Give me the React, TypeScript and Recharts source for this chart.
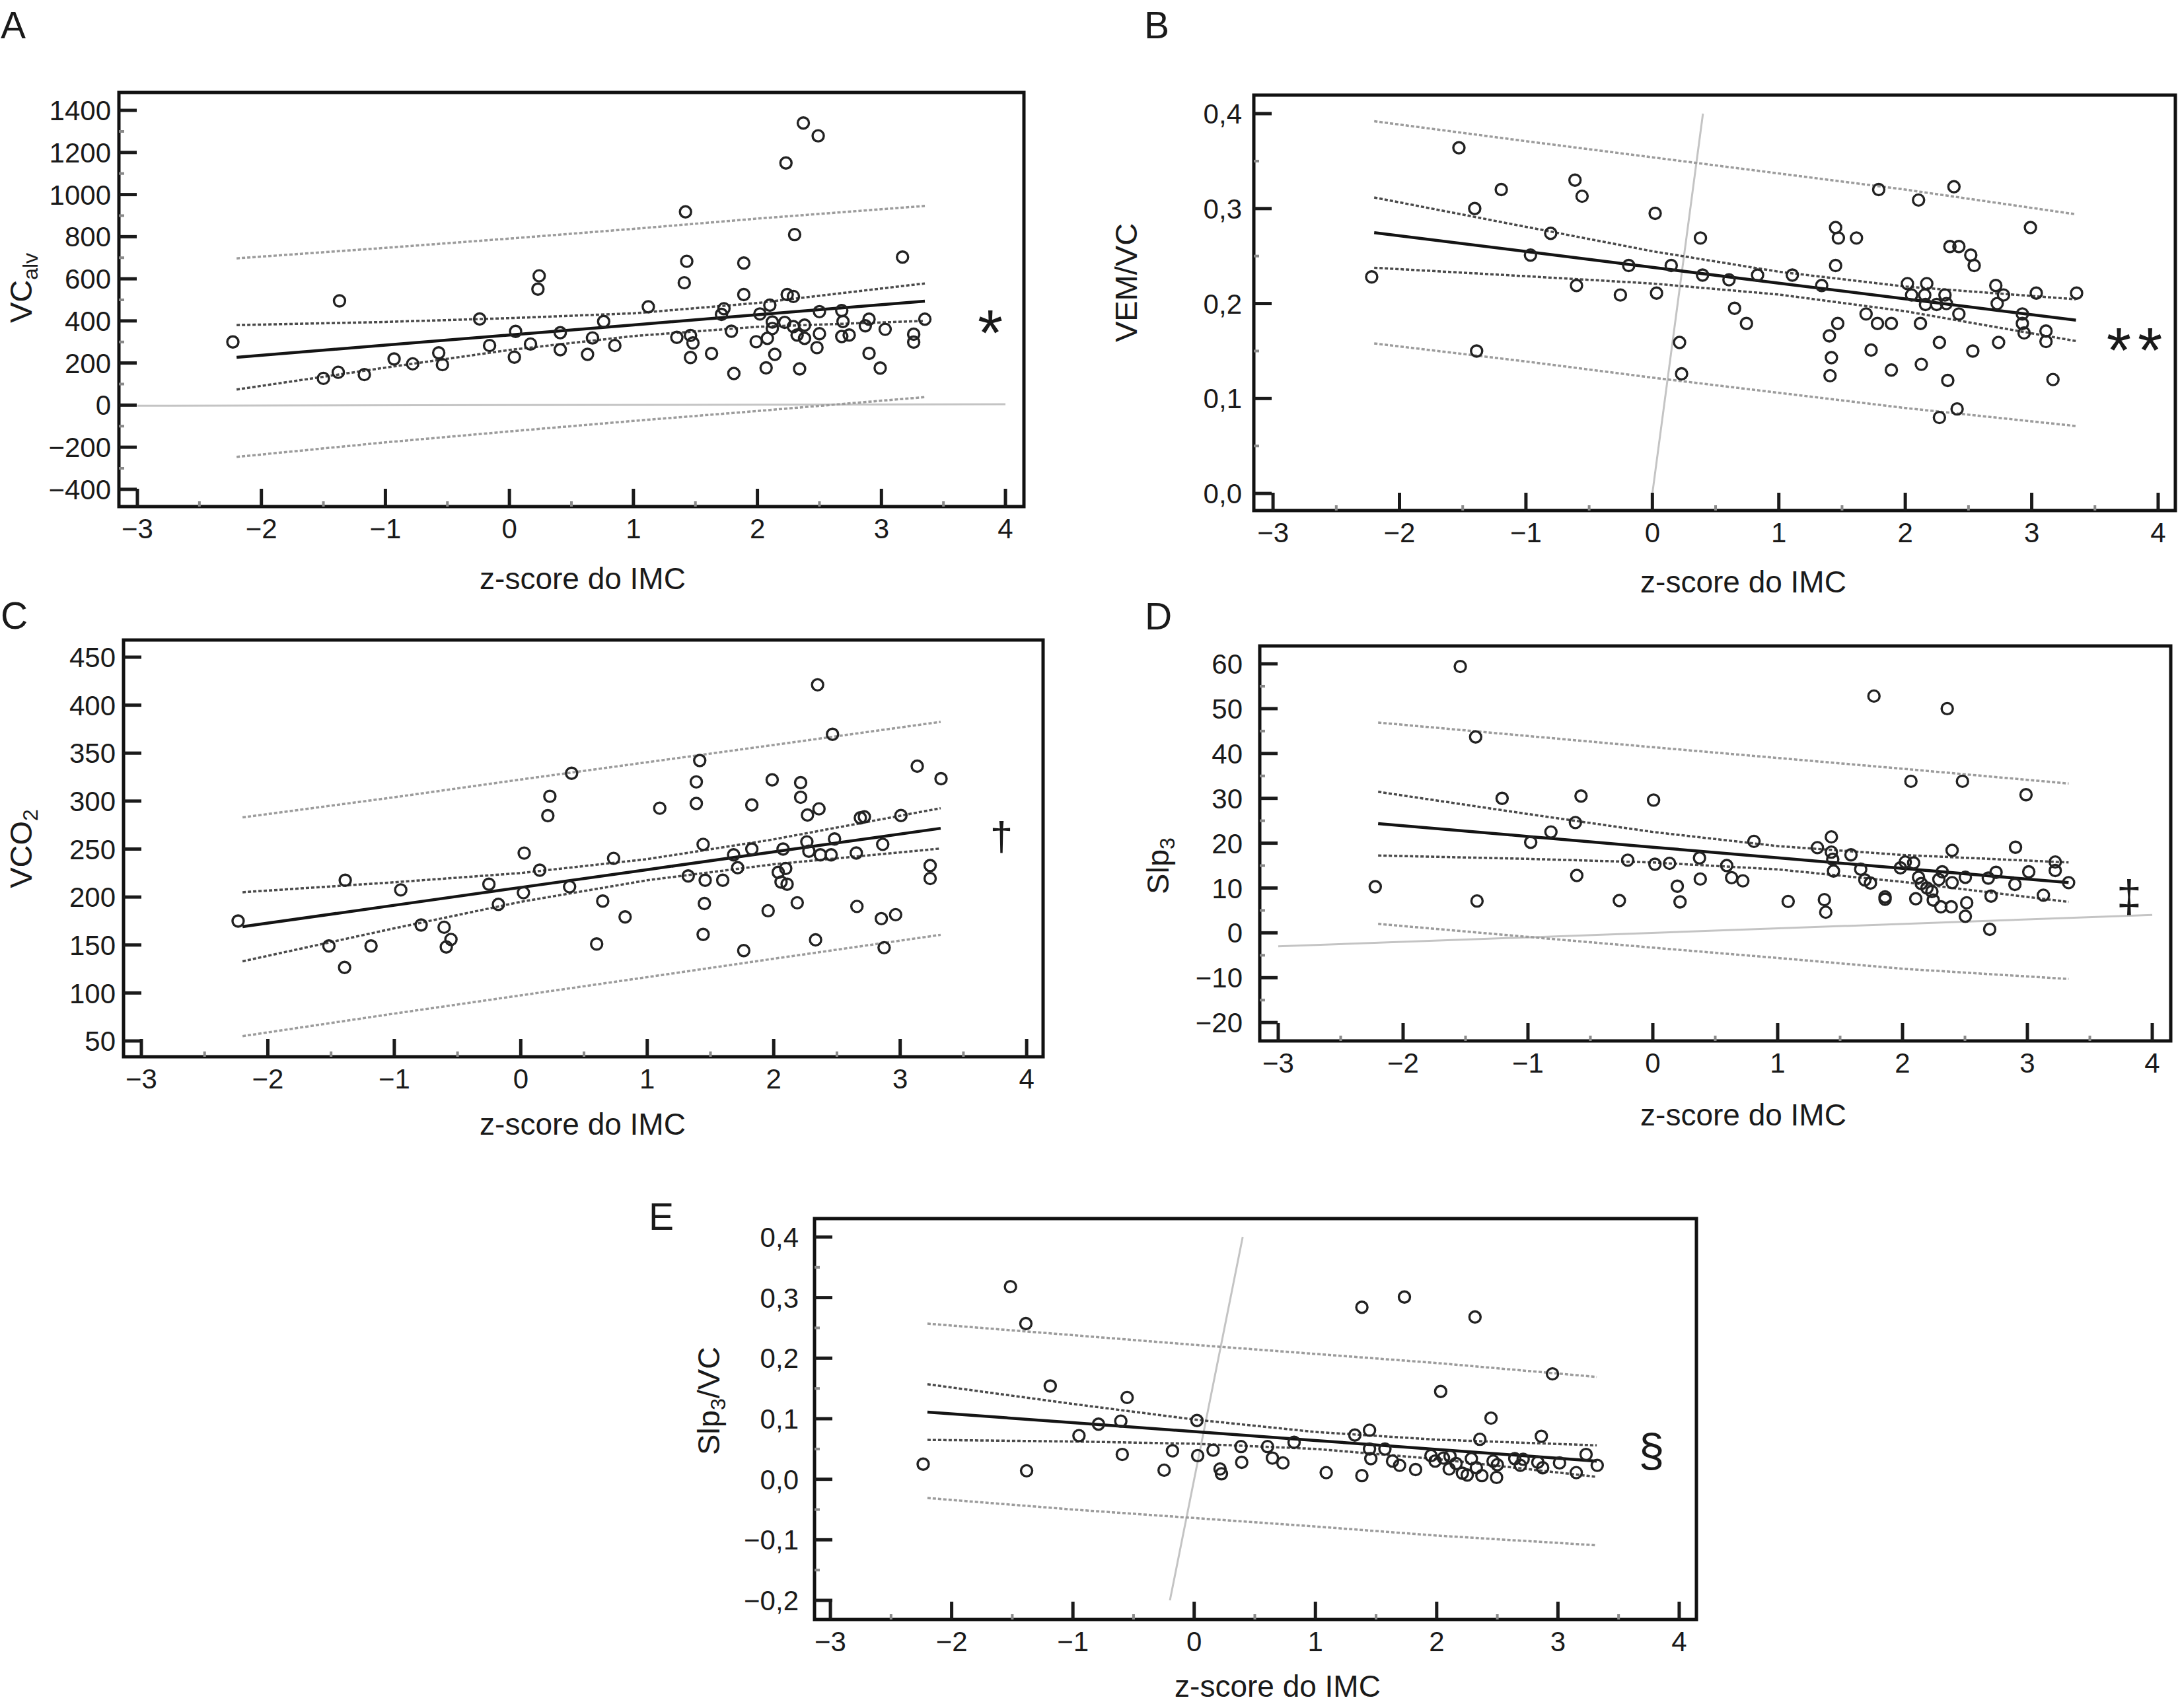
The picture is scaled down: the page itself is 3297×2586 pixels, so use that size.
import { ReferenceArea, Scatter, ScatterChart, XAxis, YAxis } from "recharts";

type Pt = [number, number];

// z-score do IMC (shared x axis)
const zTicks = [-3, -2, -1, 0, 1, 2, 3, 4];
const zMinorTicks = [-2.5, -1.5, -0.5, 0.5, 1.5, 2.5, 3.5];

// A – VCalv
const vcAlvPoints: Pt[] = [
  [-2.23, 300], [-1.37, 495], [-1.5, 127], [-1.38, 156], [-1.17, 145], [-0.93, 219], [-0.78, 196],
  [-0.57, 248], [-0.54, 192], [-0.24, 409], [-0.16, 283], [0.04, 228], [0.05, 350], [0.24, 614],
  [0.23, 551], [0.17, 290], [0.41, 263], [0.41, 344], [0.63, 241], [0.67, 319], [0.76, 397],
  [0.85, 283], [1.12, 467], [1.35, 322], [1.42, 918], [1.41, 581], [1.43, 683], [1.46, 331],
  [1.46, 226], [1.48, 295], [1.63, 245], [1.71, 431], [1.73, 458], [1.79, 351], [1.81, 150],
  [1.89, 675], [1.89, 525], [1.99, 301], [2.02, 433], [2.07, 177], [2.08, 317], [2.1, 475],
  [2.12, 395], [2.12, 364], [2.14, 241], [2.23, 1150], [2.22, 393], [2.24, 525], [2.3, 810],
  [2.29, 516], [2.29, 373], [2.32, 333], [2.34, 172], [2.37, 1340], [2.38, 380], [2.38, 317],
  [2.48, 273], [2.49, 1279], [2.5, 444], [2.5, 339], [2.68, 449], [2.68, 326], [2.69, 397],
  [2.74, 333], [2.87, 377], [2.9, 408], [2.9, 246], [2.99, 176], [3.03, 360], [3.17, 703],
  [3.26, 337], [3.26, 299], [3.35, 408],
];
const vcAlvBandX = [-2.2, -1, 0, 1, 2, 3.35];
const vcAlvFit = [227, 285, 333, 381, 429, 494];
const vcAlvCiHigh = [380, 395, 413, 436, 485, 578];
const vcAlvCiLow = [74, 178, 262, 328, 372, 400];
const vcAlvPiHigh = [697, 747, 791, 837, 886, 946];
const vcAlvPiLow = [-246, -177, -125, -75, -28, 38];
const vcAlvIdentity = [-3, 4];
const vcAlvTicks = [-400, -200, 0, 200, 400, 600, 800, 1000, 1200, 1400];
const vcAlvMinorTicks = [-300, -100, 100, 300, 500, 700, 900, 1100, 1300];

// B – VEM/VC
const vemPoints: Pt[] = [
  [-2.22, 0.228], [-1.53, 0.364], [-1.405, 0.3], [-1.39, 0.15], [-1.195, 0.32], [-0.964, 0.251],
  [-0.804, 0.274], [-0.612, 0.33], [-0.556, 0.313], [-0.6, 0.219], [-0.253, 0.209], [-0.187, 0.24],
  [0.022, 0.295], [0.033, 0.211], [0.149, 0.24], [0.215, 0.159], [0.231, 0.126], [0.38, 0.269],
  [0.397, 0.23], [0.606, 0.225], [0.65, 0.195], [0.744, 0.179], [0.832, 0.23], [1.107, 0.23],
  [1.339, 0.219], [1.4, 0.166], [1.416, 0.143], [1.405, 0.124], [1.449, 0.28], [1.471, 0.269],
  [1.449, 0.24], [1.466, 0.179], [1.614, 0.269], [1.69, 0.189], [1.73, 0.151], [1.79, 0.32],
  [1.78, 0.179], [1.89, 0.179], [1.89, 0.13], [2.017, 0.221], [2.05, 0.209], [2.105, 0.309],
  [2.12, 0.179], [2.127, 0.136], [2.154, 0.209], [2.17, 0.221], [2.16, 0.199], [2.248, 0.199],
  [2.27, 0.159], [2.27, 0.08], [2.314, 0.209], [2.325, 0.2], [2.336, 0.119], [2.353, 0.26],
  [2.385, 0.323], [2.424, 0.26], [2.424, 0.189], [2.41, 0.089], [2.518, 0.251], [2.545, 0.24],
  [2.534, 0.15], [2.716, 0.219], [2.727, 0.2], [2.738, 0.159], [2.777, 0.209], [2.926, 0.189],
  [2.926, 0.179], [2.94, 0.169], [2.99, 0.28], [3.036, 0.211], [3.113, 0.171], [3.113, 0.16],
  [3.168, 0.12], [3.355, 0.211],
];
const vemBandX = [-2.2, -1, 0, 1, 2, 3.35];
const vemFit = [0.2747, 0.2548, 0.2381, 0.2215, 0.2049, 0.1825];
const vemCiHigh = [0.3117, 0.2808, 0.2551, 0.2335, 0.2179, 0.2045];
const vemCiLow = [0.2377, 0.2288, 0.2211, 0.2095, 0.1919, 0.1605];
const vemPiHigh = [0.392, 0.371, 0.354, 0.337, 0.32, 0.294];
const vemPiLow = [0.158, 0.139, 0.122, 0.106, 0.09, 0.071];
const vemIdentity = [0, 0.4];
const vemTicks = [0, 0.1, 0.2, 0.3, 0.4];
const vemMinorTicks = [0.05, 0.15, 0.25, 0.35];

// C – VCO2
const vco2Points: Pt[] = [
  [-2.235, 175], [-1.517, 149], [-1.388, 217.5], [-1.393, 126.6], [-1.184, 149], [-0.949, 207.4],
  [-0.788, 170.8], [-0.606, 168.5], [-0.589, 148], [-0.552, 155.8], [-0.252, 213.4], [-0.177, 192.4],
  [0.027, 245.8], [0.021, 204.5], [0.15, 228], [0.214, 284.8], [0.23, 305], [0.386, 210.7],
  [0.402, 329], [0.6, 151], [0.648, 195.8], [0.734, 240.3], [0.825, 179.3], [1.099, 292.6],
  [1.324, 222], [1.388, 320], [1.388, 297.5], [1.415, 342.3], [1.442, 254.9], [1.458, 217.5],
  [1.452, 193.2], [1.442, 161], [1.597, 217.5], [1.683, 244], [1.715, 230.6], [1.763, 144.2],
  [1.827, 296], [1.827, 250], [1.956, 185.7], [1.988, 322.1], [2.036, 225.7], [2.058, 215.6],
  [2.074, 250], [2.095, 229.8], [2.106, 213.4], [2.186, 194], [2.213, 319.2], [2.213, 304],
  [2.267, 285.5], [2.262, 257.5], [2.278, 247.8], [2.331, 155.4], [2.347, 421.2], [2.358, 291.9],
  [2.369, 244], [2.465, 369.6], [2.454, 244], [2.481, 260.5], [2.653, 245.9], [2.658, 190.2],
  [2.685, 282.5], [2.717, 283.6], [2.851, 177.5], [2.862, 254.9], [2.873, 147.2], [2.964, 181.6],
  [3.006, 285], [3.135, 336.4], [3.237, 232.8], [3.237, 219.3], [3.323, 323.3],
];
const vco2BandX = [-2.2, -1, 0, 1, 2, 3.32];
const vco2Fit = [169.1, 191.4, 210, 228.5, 247.1, 271.6];
const vco2CiHigh = [205, 215.4, 225, 239.5, 260.1, 292.6];
const vco2CiLow = [133, 167.4, 195, 217.5, 234.1, 250.6];
const vco2PiHigh = [283, 304, 322.5, 340.5, 358.5, 382.6];
const vco2PiLow = [55, 78.5, 97.5, 116.5, 135.7, 160.6];
const vco2Ticks = [50, 100, 150, 200, 250, 300, 350, 400, 450];

// D – Slp3
const slpPoints: Pt[] = [
  [-2.223, 10.3], [-1.542, 59.4], [-1.419, 43.7], [-1.408, 7.1], [-1.207, 30], [-0.978, 20.2],
  [-0.816, 22.5], [-0.62, 24.6], [-0.575, 30.5], [-0.609, 12.8], [-0.268, 7.2], [-0.201, 16.2],
  [0.006, 29.6], [0.017, 15.3], [0.134, 15.5], [0.196, 10.4], [0.218, 6.9], [0.374, 16.7],
  [0.38, 12], [0.592, 15], [0.631, 12.3], [0.721, 11.6], [0.81, 20.4], [1.084, 7], [1.318, 19],
  [1.374, 7.4], [1.385, 4.6], [1.43, 21.4], [1.43, 18], [1.447, 13.8], [1.441, 16.4], [1.587, 17.4],
  [1.665, 14.2], [1.698, 11.8], [1.771, 52.8], [1.743, 11.1], [1.86, 8], [1.86, 7.5], [1.983, 14.5],
  [2.022, 15.8], [2.067, 33.8], [2.089, 15.6], [2.106, 7.6], [2.128, 12.4], [2.15, 11], [2.196, 10],
  [2.235, 9.2], [2.246, 7.3], [2.291, 11.9], [2.318, 13.6], [2.307, 5.8], [2.358, 50], [2.397, 18.4],
  [2.397, 11.2], [2.39, 5.8], [2.48, 33.8], [2.503, 12.4], [2.514, 6.7], [2.503, 3.7], [2.687, 12.2],
  [2.709, 8.2], [2.698, 0.8], [2.749, 13.5], [2.905, 19.1], [2.9, 10.8], [2.989, 30.8], [3.011, 13.6],
  [3.128, 8.4], [3.223, 15.8], [3.223, 13.9], [3.33, 11.2],
];
const slpBandX = [-2.2, -1, 0, 1, 2, 3.33];
const slpFit = [24.35, 21.5, 19.1, 16.75, 14.37, 11.2];
const slpCiHigh = [31.45, 26.5, 22.5, 19.35, 17.37, 15.7];
const slpCiLow = [17.25, 16.5, 15.7, 14.15, 11.37, 6.9];
const slpPiHigh = [46.9, 43.9, 41.4, 39, 36.6, 33.3];
const slpPiLow = [2, -0.9, -3.3, -5.6, -8, -10.3];
const slpIdentity = [-3, 4];
const slpTicks = [-20, -10, 0, 10, 20, 30, 40, 50, 60];
const slpMinorTicks = [-15, -5, 5, 15, 25, 35, 45, 55];

// E – Slp3/VC
const slpVcPoints: Pt[] = [
  [-2.235, 0.025], [-1.515, 0.318], [-1.388, 0.257], [-1.382, 0.014], [-1.187, 0.154], [-0.95, 0.072],
  [-0.789, 0.091], [-0.605, 0.096], [-0.553, 0.135], [-0.593, 0.041], [-0.248, 0.015], [-0.179, 0.047],
  [0.023, 0.097], [0.029, 0.039], [0.156, 0.048], [0.213, 0.017], [0.225, 0.009], [0.386, 0.054],
  [0.392, 0.028], [0.605, 0.054], [0.645, 0.035], [0.732, 0.027], [0.824, 0.061], [1.089, 0.011],
  [1.325, 0.073], [1.383, 0.284], [1.383, 0.006], [1.446, 0.081], [1.446, 0.05], [1.457, 0.034],
  [1.573, 0.05], [1.636, 0.03], [1.694, 0.023], [1.734, 0.301], [1.826, 0.016], [1.953, 0.039],
  [1.987, 0.03], [2.033, 0.145], [2.056, 0.035], [2.103, 0.017], [2.16, 0.026], [2.212, 0.01],
  [2.252, 0.007], [2.286, 0.034], [2.316, 0.268], [2.327, 0.019], [2.356, 0.066], [2.373, 0.006],
  [2.448, 0.101], [2.465, 0.03], [2.494, 0.003], [2.644, 0.034], [2.69, 0.023], [2.834, 0.028],
  [2.863, 0.071], [2.874, 0.019], [2.955, 0.174], [3.013, 0.027], [3.151, 0.011], [3.232, 0.041],
  [3.324, 0.023], [2.5, 0.024], [2.713, 0.033], [2.11, 0.038],
];
const slpVcBandX = [-2.2, -1, 0, 1, 2, 3.32];
const slpVcFit = [0.111, 0.0934, 0.0787, 0.0641, 0.0494, 0.03];
const slpVcCiHigh = [0.157, 0.1244, 0.0987, 0.0781, 0.0654, 0.056];
const slpVcCiLow = [0.065, 0.0624, 0.0587, 0.0501, 0.0334, 0.004];
const slpVcPiHigh = [0.257, 0.238, 0.222, 0.207, 0.192, 0.169];
const slpVcPiLow = [-0.031, -0.05, -0.064, -0.078, -0.093, -0.109];
const slpVcIdentity = [-0.2, 0.4];
const slpVcTicks = [-0.2, -0.1, 0, 0.1, 0.2, 0.3, 0.4];
const slpVcMinorTicks = [-0.15, -0.05, 0.05, 0.15, 0.25, 0.35];

const FONT = '"Liberation Sans", Arial, Helvetica, sans-serif';
const INK = "#1a1a1a";
const TICK_LEN = 27;
const MINOR_LEN = 8;
// plot area sits at (160, 20) inside each chart; axes take 1px each
const MARGIN = { top: 20, right: 20, bottom: 79, left: 159 };

const CI_LINE = { stroke: "#4a4a4a", strokeWidth: 3.5, strokeDasharray: "5 3" };
const PI_LINE = { stroke: "#9c9c9c", strokeWidth: 3.5, strokeDasharray: "5 3" };

const fmt = (v: number, decimals: number) => {
  const s = Math.abs(v).toFixed(decimals).replace(".", ",");
  return v < 0 ? "\u2212" + s : s;
};

const toXY = (xs: number[], ys: number[]) => xs.map((x, i) => ({ x, y: ys[i] }));
const noShape = () => <g />;

interface PanelProps {
  left: number;
  top: number;
  width: number;
  height: number;
  xDomain: [number, number];
  yDomain: [number, number];
  yTicks: number[];
  yMinorTicks: number[];
  decimals: number;
  labelGap: number;
  points: Pt[];
  bandX: number[];
  fit: number[];
  ciHigh: number[];
  ciLow: number[];
  piHigh: number[];
  piLow: number[];
  identity?: number[];
}

const Panel = (p: PanelProps) => {
  const renderXTick = (props: any) => {
    const { x, y, payload } = props;
    const major = zTicks.includes(payload.value);
    return (
      <g>
        <line
          x1={x}
          y1={y}
          x2={x}
          y2={y - (major ? TICK_LEN : MINOR_LEN)}
          stroke={major ? INK : "#8a8a8a"}
          strokeWidth={major ? 5 : 4}
        />
        {major && (
          <text x={x} y={y + 48} textAnchor="middle" fontSize={42} fontFamily={FONT} fill={INK}>
            {fmt(payload.value, 0)}
          </text>
        )}
      </g>
    );
  };

  const renderYTick = (props: any) => {
    const { x, y, payload } = props;
    const major = p.yTicks.includes(payload.value);
    return (
      <g>
        <line
          x1={x}
          y1={y}
          x2={x + (major ? TICK_LEN : MINOR_LEN)}
          y2={y}
          stroke={major ? INK : "#8a8a8a"}
          strokeWidth={major ? 5 : 4}
        />
        {major && (
          <text x={x - p.labelGap} y={y} dy="0.36em" textAnchor="end" fontSize={42} fontFamily={FONT} fill={INK}>
            {fmt(payload.value, p.decimals)}
          </text>
        )}
      </g>
    );
  };

  const dots = p.points.map(([x, y]) => ({ x, y }));

  return (
    <div style={{ position: "absolute", left: p.left - 160, top: p.top - MARGIN.top }}>
      <ScatterChart
        width={p.width + 160 + MARGIN.right}
        height={p.height + MARGIN.top + 80}
        margin={MARGIN}
      >
        <XAxis
          type="number"
          dataKey="x"
          domain={p.xDomain}
          allowDataOverflow
          ticks={[...zTicks, ...zMinorTicks]}
          interval={0}
          height={1}
          tickSize={0}
          tickMargin={0}
          tickLine={false}
          axisLine={false}
          tick={renderXTick}
        />
        <YAxis
          type="number"
          dataKey="y"
          domain={p.yDomain}
          allowDataOverflow
          ticks={[...p.yTicks, ...p.yMinorTicks]}
          interval={0}
          width={1}
          tickSize={0}
          tickMargin={0}
          tickLine={false}
          axisLine={false}
          tick={renderYTick}
        />
        {p.identity && (
          <Scatter
            data={toXY(p.identity, p.identity)}
            line={{ stroke: "#c4c4c4", strokeWidth: 3 }}
            shape={noShape}
            isAnimationActive={false}
          />
        )}
        <Scatter data={toXY(p.bandX, p.piHigh)} line={PI_LINE} shape={noShape} isAnimationActive={false} />
        <Scatter data={toXY(p.bandX, p.piLow)} line={PI_LINE} shape={noShape} isAnimationActive={false} />
        <Scatter data={toXY(p.bandX, p.ciHigh)} line={CI_LINE} shape={noShape} isAnimationActive={false} />
        <Scatter data={toXY(p.bandX, p.ciLow)} line={CI_LINE} shape={noShape} isAnimationActive={false} />
        <Scatter
          data={toXY(p.bandX, p.fit)}
          line={{ stroke: "#141414", strokeWidth: 4.5 }}
          shape={noShape}
          isAnimationActive={false}
        />
        <Scatter
          data={dots}
          isAnimationActive={false}
          shape={(s: any) => <circle cx={s.cx} cy={s.cy} r={8.5} fill="none" stroke="#222" strokeWidth={3.4} />}
        />
        <ReferenceArea
          x1={p.xDomain[0]}
          x2={p.xDomain[1]}
          y1={p.yDomain[0]}
          y2={p.yDomain[1]}
          ifOverflow="visible"
          fill="none"
          fillOpacity={0}
          stroke="#111"
          strokeWidth={5}
        />
      </ScatterChart>
    </div>
  );
};

const textStyle = { fontFamily: FONT, fill: INK };

const YTitle = ({ cx, cy, children }: { cx: number; cy: number; children: any }) => (
  <text
    x={cx}
    y={cy}
    dy="0.36em"
    textAnchor="middle"
    fontSize={47}
    transform={`rotate(-90 ${cx} ${cy})`}
    style={textStyle}
  >
    {children}
  </text>
);

const XTitle = ({ cx, cy }: { cx: number; cy: number }) => (
  <text x={cx} y={cy} dy="0.36em" textAnchor="middle" fontSize={46} style={textStyle}>
    z-score do IMC
  </text>
);

const Letter = ({ x, y, t }: { x: number; y: number; t: string }) => (
  <text x={x} y={y} fontSize={57} style={textStyle}>
    {t}
  </text>
);

const Mark = ({ cx, cy, t, size, lift, spacing = 0 }: { cx: number; cy: number; t: string; size: number; lift: number; spacing?: number }) => (
  <text x={cx + spacing / 2} y={cy + lift * size} textAnchor="middle" fontSize={size} letterSpacing={spacing} style={textStyle}>
    {t}
  </text>
);

export default function App() {
  return (
    <div style={{ position: "absolute", left: 0, top: 0, width: 3297, height: 2586, background: "#fff", overflow: "hidden" }}>
      <Panel
        left={180} top={140} width={1370} height={627}
        xDomain={[-3.149, 4.149]} yDomain={[-482, 1485]}
        yTicks={vcAlvTicks} yMinorTicks={vcAlvMinorTicks} decimals={0} labelGap={12}
        points={vcAlvPoints} bandX={vcAlvBandX} fit={vcAlvFit}
        ciHigh={vcAlvCiHigh} ciLow={vcAlvCiLow} piHigh={vcAlvPiHigh} piLow={vcAlvPiLow}
        identity={vcAlvIdentity}
      />
      <Panel
        left={1898} top={144} width={1395} height={629}
        xDomain={[-3.152, 4.136]} yDomain={[-0.018, 0.4195]}
        yTicks={vemTicks} yMinorTicks={vemMinorTicks} decimals={1} labelGap={18}
        points={vemPoints} bandX={vemBandX} fit={vemFit}
        ciHigh={vemCiHigh} ciLow={vemCiLow} piHigh={vemPiHigh} piLow={vemPiLow}
        identity={vemIdentity}
      />
      <Panel
        left={187} top={969} width={1392} height={631}
        xDomain={[-3.141, 4.13]} yDomain={[33.5, 467.9]}
        yTicks={vco2Ticks} yMinorTicks={[]} decimals={0} labelGap={12}
        points={vco2Points} bandX={vco2BandX} fit={vco2Fit}
        ciHigh={vco2CiHigh} ciLow={vco2CiLow} piHigh={vco2PiHigh} piLow={vco2PiLow}
      />
      <Panel
        left={1907} top={978} width={1379} height={598}
        xDomain={[-3.148, 4.148]} yDomain={[-24.1, 63.98]}
        yTicks={slpTicks} yMinorTicks={slpMinorTicks} decimals={0} labelGap={26}
        points={slpPoints} bandX={slpBandX} fit={slpFit}
        ciHigh={slpCiHigh} ciLow={slpCiLow} piHigh={slpPiHigh} piLow={slpPiLow}
        identity={slpIdentity}
      />
      <Panel
        left={1233} top={1845} width={1335} height={607}
        xDomain={[-3.131, 4.142]} yDomain={[-0.2316, 0.4305]}
        yTicks={slpVcTicks} yMinorTicks={slpVcMinorTicks} decimals={1} labelGap={24}
        points={slpVcPoints} bandX={slpVcBandX} fit={slpVcFit}
        ciHigh={slpVcCiHigh} ciLow={slpVcCiLow} piHigh={slpVcPiHigh} piLow={slpVcPiLow}
        identity={slpVcIdentity}
      />
      <svg
        width={3297}
        height={2586}
        style={{ position: "absolute", left: 0, top: 0, pointerEvents: "none" }}
      >
        <Letter x={1} y={58} t="A" />
        <Letter x={1732} y={58} t="B" />
        <Letter x={1} y={952} t="C" />
        <Letter x={1733} y={953} t="D" />
        <Letter x={982} y={1862} t="E" />

        <YTitle cx={31} cy={436}>
          VC<tspan fontSize={32} dy={9}>alv</tspan>
        </YTitle>
        <YTitle cx={1704} cy={428}>VEM/VC</YTitle>
        <YTitle cx={31} cy={1285}>
          VCO<tspan fontSize={32} dy={9}>2</tspan>
        </YTitle>
        <YTitle cx={1752} cy={1311}>
          Slp<tspan fontSize={32} dy={9}>3</tspan>
        </YTitle>
        <YTitle cx={1072} cy={2121}>
          Slp<tspan fontSize={32} dy={9}>3</tspan>
          <tspan dy={-9}>/VC</tspan>
        </YTitle>

        <XTitle cx={882} cy={875} />
        <XTitle cx={2639} cy={880} />
        <XTitle cx={882} cy={1701} />
        <XTitle cx={2639} cy={1687} />
        <XTitle cx={1934} cy={2552} />

        <Mark cx={1499} cy={482} t="*" size={98} lift={0.57} />
        <Mark cx={3231} cy={508} t="**" size={96} lift={0.57} spacing={10} />
        <Mark cx={1516} cy={1270} t={"\u2020"} size={62} lift={0.27} />
        <Mark cx={3223} cy={1363} t={"\u2021"} size={68} lift={0.27} />
        <Mark cx={2500} cy={2201} t={"\u00a7"} size={70} lift={0.27} />
      </svg>
    </div>
  );
}
